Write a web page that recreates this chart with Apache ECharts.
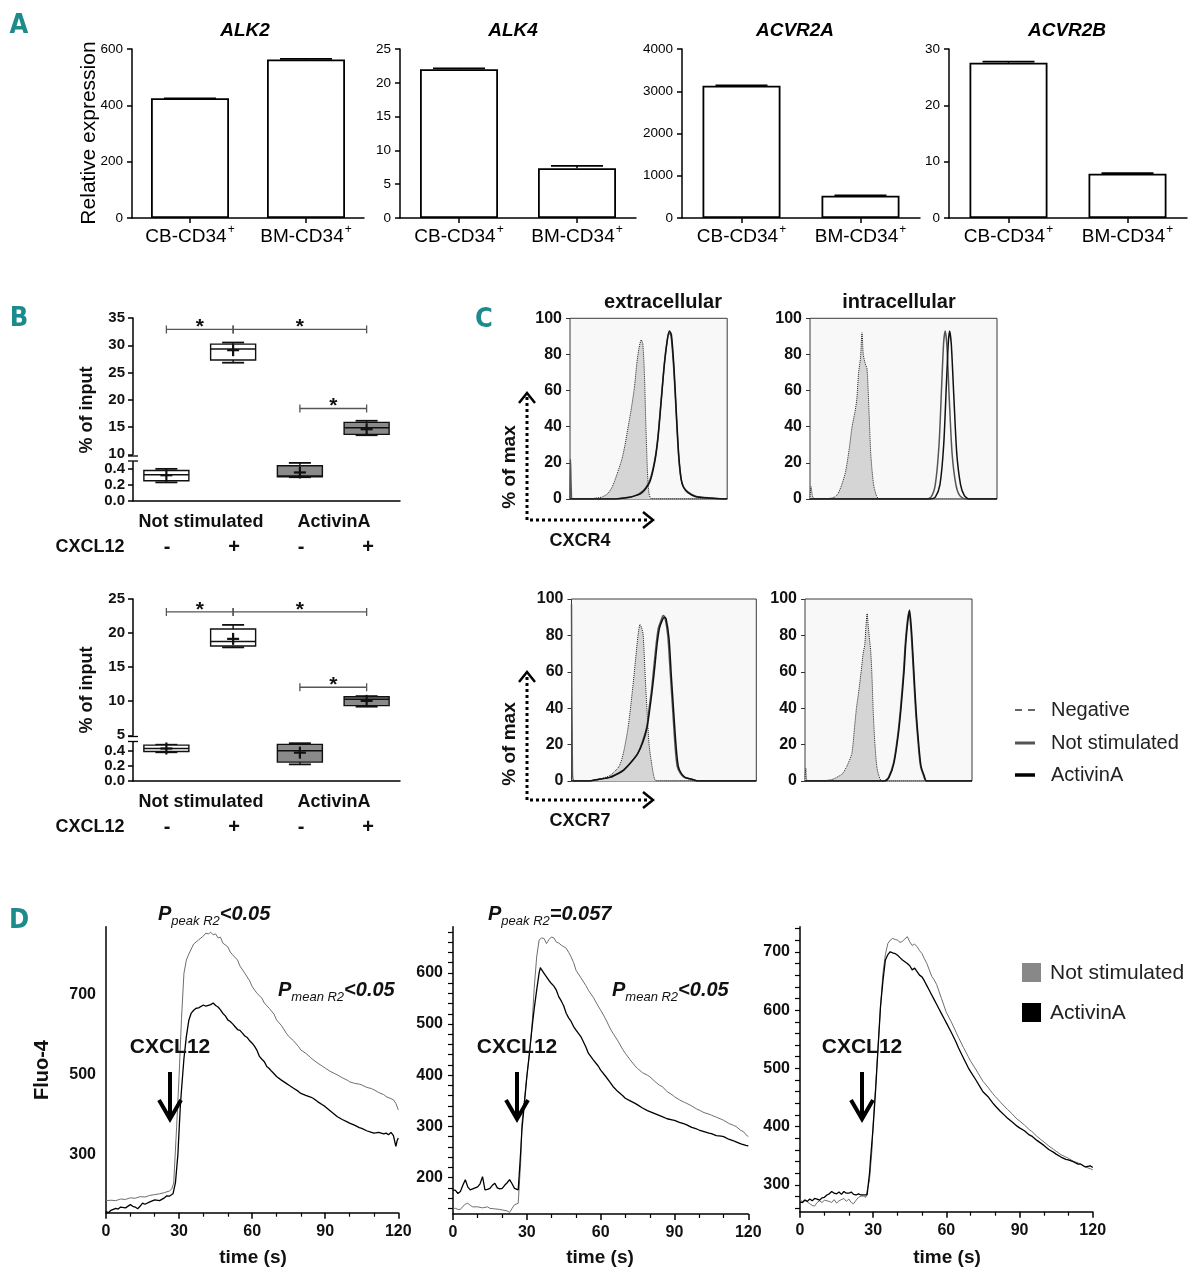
<!DOCTYPE html>
<html><head><meta charset="utf-8">
<script src="https://cdn.jsdelivr.net/npm/echarts@6/dist/echarts.min.js"></script>
<style>html,body{margin:0;padding:0;background:#fff}#c{width:1199px;height:1280px}</style>
</head><body><div id="c"></div>
<script>
const FF = '"Liberation Sans", Arial, Helvetica, sans-serif';
const NARROW = '"Liberation Sans Narrow", "DejaVu Sans Condensed", "Liberation Sans", sans-serif';

// ---------- Panel A data ----------
const aGroups = ['CB-CD34', 'BM-CD34'];
const aGenes = ['ALK2', 'ALK4', 'ACVR2A', 'ACVR2B'];
const alk2Vals = [425, 563];
const alk2Err = [0, 2];
const alk4Vals = [22.0, 7.35];
const alk4Err = [0.12, 0.35];
const acvr2aVals = [3130, 525];
const acvr2aErr = [8, 8];
const acvr2bVals = [27.55, 7.85];
const acvr2bErr = [0.2, 0.12];
const aAxisMax = [600, 25, 4000, 30];
const aAxisStep = [200, 5, 1000, 10];

// ---------- Panel B data: [category, min, q1, median, q3, max, mean] ----------
const bCats = ['Not stimulated -', 'Not stimulated +', 'ActivinA -', 'ActivinA +'];
const bCxcl12 = ['-', '+', '-', '+'];
const bTopBoxes = [
  [0, 0.23, 0.25, 0.325, 0.38, 0.40, 0.32],
  [1, 26.8, 27.3, 29.3, 30.2, 30.5, 29.1],
  [2, 0.295, 0.30, 0.31, 0.44, 0.475, 0.355],
  [3, 13.5, 13.65, 14.85, 15.85, 16.15, 14.6]
];
const bBottomBoxes = [
  [0, 0.38, 0.39, 0.43, 0.475, 0.48, 0.43],
  [1, 17.9, 18.1, 18.75, 20.6, 21.2, 19.15],
  [2, 0.22, 0.25, 0.40, 0.485, 0.50, 0.375],
  [3, 9.2, 9.35, 10.3, 10.65, 10.75, 10.05]
];
const bTopSig = [[0, 1, 32.9], [1, 3, 32.9], [2, 3, 18.4]];
const bBottomSig = [[0, 1, 23.1], [1, 3, 23.1], [2, 3, 12.05]];
const bLowTickLabels = [0, 0.2, 0.4];

// ---------- Panel C data: [relative fluorescence, % of max] ----------
const cxcr4ExtNeg = [[0,0],[14,0],[16,0.5],[20,1],[24,3],[27,7],[30,14],[33,22],[35,30],[37,40],[39,50],[41,62],[42.5,75],[44,84],[45.3,88],[46.3,86],[47.3,70],[48.3,40],[49.3,15],[50.3,3],[52,0],[100,0]];
const cxcr4ExtNS = [[0,0],[0.3,22],[0.8,5],[1.5,0],[27,0],[32,0.3],[38,1],[42,2],[45,3.5],[48,6],[51,11],[54,22],[56,35],[58,55],[60,75],[61.7,87],[63,92],[64.3,90],[66,72],[67.5,48],[69,25],[70.5,12],[72,7],[75,4],[80,1.5],[90,0.5],[99,0],[100,0]];
const cxcr4ExtAct = [[0,0],[27,0],[32,0.3],[38,1],[42,2],[45,3],[48,5.5],[51,10],[54,21],[56,34],[58,54],[60,74],[61.9,88],[63.2,93],[64.5,91],[66.2,72],[67.7,47],[69.2,24],[70.7,11],[72.2,6.5],[75,3.5],[80,1.3],[90,0.4],[99,0],[100,0]];
const cxcr4IntNeg = [[0,0],[0.5,7],[1.5,1],[3,0],[10,0.3],[13,1],[15,3],[17,8],[19,15],[21,28],[22.5,40],[24,48],[25,55],[26,70],[27,78],[27.8,92],[28.5,80],[29.5,75],[30.5,72],[31.5,50],[32.5,25],[34,8],[35.5,2],[37,0],[100,0]];
const cxcr4IntNS = [[0,0],[62,0],[64.7,1],[67,8],[69,30],[70.5,65],[71.5,87],[72.3,93],[73.2,85],[74.5,55],[76,25],[78,8],[80,2],[83,0],[100,0]];
const cxcr4IntAct = [[0,0],[64.5,0],[67,1],[69.5,8],[71.5,30],[73,65],[74,87],[74.7,93],[75.6,85],[77,55],[78.5,25],[80.5,8],[82.5,2],[85,0],[100,0]];
const cxcr7ExtNeg = [[0,0],[9,0],[15,1],[20.7,3],[25.7,8],[28,15],[30.7,30],[33,50],[34.5,65],[36,80],[37.1,86],[38,84],[38.8,80],[40,55],[40.8,40],[42,20],[43.3,10],[44.5,3],[45.8,0],[100,0]];
const cxcr7ExtNS = [[0,97],[0.5,5],[1.5,0],[9,0],[15,1],[20.7,2],[25,4],[28.2,6],[32,10],[35.8,15],[38.5,22],[40.8,30],[42,40],[43.3,50],[44.5,62],[45.8,75],[47,84],[48.4,88],[49.6,91],[50.5,90],[52.1,80],[53.4,60],[54.7,40],[56,20],[57.2,8],[59,4],[60.9,2],[65,1],[68.5,0],[100,0]];
const cxcr7ExtAct = [[0,0],[9,0],[15,1],[20.7,2],[25,4],[28.2,6],[32,10],[35.8,15],[38.5,21],[40.8,29],[42.3,39],[43.7,50],[45,62],[46.3,75],[47.6,84],[49,88],[50.2,90],[51.2,89],[52.8,78],[54,58],[55.3,38],[56.6,19],[57.8,8],[59.5,4],[61.5,2],[65,1],[68.5,0],[100,0]];
const cxcr7IntNeg = [[0,0],[0.5,7],[1.5,0],[10,0],[14,0.5],[16.8,1],[19,2],[22.4,4],[25,8],[28,15],[29.5,28],[30.8,40],[32,48],[33.6,60],[34.8,70],[35.8,75],[36.5,85],[37.2,92],[37.9,85],[38.6,78],[39.3,72],[40,60],[41,35],[41.9,20],[43,8],[44.2,3],[46.1,0],[100,0]];
const cxcr7IntNS = [[0,0],[47.5,0],[50,2],[53,10],[55.5,25],[57.2,40],[59,60],[60,75],[61.3,88],[62.3,93],[63.3,85],[64.3,70],[65.5,50],[66.5,35],[68,18],[69.2,8],[71,3],[72.6,0],[100,0]];
const cxcr7IntAct = [[0,0],[47.8,0],[50.3,2],[53.3,10],[55.8,25],[57.5,40],[59.3,60],[60.3,75],[61.6,88],[62.6,94],[63.6,85],[64.6,70],[65.8,50],[66.8,35],[68.3,18],[69.5,8],[71.3,3],[72.9,0],[100,0]];

// ---------- Panel D data: [time (s), Fluo-4] ----------
const d1NS = [[0,186],[2,187],[4,186],[6,190],[8,189],[10,193],[12,192],[14,196],[16,195],[18,199],[20,201],[22,203],[24,206],[26,210],[27,215],[27.8,230],[29,370],[30,495],[31,640],[32,752],[33,785],[34,800],[36,825],[38,835],[40,845],[41,852],[42,850],[43,854],[44,848],[45,850],[46,840],[47,842],[48,827],[50,818],[51,805],[52,798],[54,785],[55,770],[57,752],[59,733],[60,719],[62,702],[64,690],[65,678],[67,665],[69,650],[70,636],[72,622],[74,603],[75,595],[77,584],[79,570],[80,561],[82,553],[84,542],[85,537],[87,528],[89,520],[90,516],[92,508],[94,502],[95,499],[97,492],[99,486],[100,482],[102,478],[104,476],[105,474],[107,468],[109,465],[110,462],[112,455],[114,450],[115,445],[117,440],[118,437],[119,428],[120,412]];
const d1Act = [[0,159],[1,156],[2,162],[4,167],[5,165],[6,170],[8,168],[10,176],[11,172],[12,170],[13,166],[14,172],[15,180],[16,177],[18,183],[20,188],[22,186],[24,193],[25,198],[26,197],[27.5,203],[28.5,230],[29.5,300],[30.5,420],[31,462],[32,540],[33,595],[34,635],[35,653],[36,660],[37,665],[38,666],[40,673],[41,670],[42,672],[43,674],[44,678],[45,672],[46,668],[47,661],[48,652],[49,646],[50,636],[51,632],[52,626],[53,619],[54,612],[55,610],[56,603],[57,596],[58,592],[59,584],[60,578],[61,570],[62,560],[63,545],[64,538],[65,532],[66,520],[67,515],[68,508],[69,502],[70,495],[72,486],[74,478],[75,474],[77,466],[79,458],[80,453],[82,448],[84,444],[85,441],[87,432],[89,424],[90,420],[92,410],[94,400],[95,395],[97,388],[99,382],[100,379],[102,374],[104,368],[105,366],[107,360],[109,356],[110,354],[112,356],[114,352],[115,354],[116,350],[117,356],[118,348],[119,321],[119.5,335],[120,342]];
const d2NS = [[0,140],[1,140],[2,138],[3,138],[4,144],[5,148],[6,150],[7,146],[8,143],[10,143],[12,141],[14,143],[15,140],[17,139],[19,138],[20,137],[22,135],[23,132],[24,140],[25,147],[26.5,150],[27.5,230],[28,306],[29,350],[30,397],[31,440],[32,488],[33,570],[34,631],[35,664],[36,668],[37,667],[38,657],[39,665],[40,670],[41,668],[42,660],[43,658],[44,654],[45,651],[46,648],[47,640],[48,631],[49,620],[50,605],[52,590],[54,575],[55,566],[57,552],[59,535],[60,527],[62,510],[64,490],[65,482],[67,467],[69,450],[70,443],[72,430],[74,418],[75,413],[77,405],[79,400],[80,397],[82,388],[84,380],[85,378],[87,368],[89,362],[90,358],[92,352],[94,347],[95,345],[97,340],[99,334],[100,332],[102,327],[104,324],[105,322],[107,318],[109,314],[110,312],[112,306],[114,302],[115,300],[117,292],[118,290],[119,284],[120,280]];
const d2Act = [[0,176],[1,175],[2,169],[3,173],[4,185],[5,196],[6,182],[7,176],[8,178],[9,180],[10,182],[11,188],[12,202],[13,176],[14,177],[15,179],[16,185],[17,189],[18,180],[19,178],[20,179],[21,185],[22,190],[23,196],[24,188],[25,179],[26.5,176],[27.5,250],[28,293],[29,345],[30,397],[31,440],[32,488],[33,530],[34,566],[35,600],[35.5,610],[36,606],[37,599],[38,592],[39,585],[40,579],[41,574],[42,566],[43,553],[44,545],[45,535],[46,521],[47,512],[48,505],[49,495],[50,488],[52,475],[54,455],[55,443],[57,430],[59,418],[60,410],[62,398],[64,385],[65,378],[67,368],[69,360],[70,355],[72,350],[74,345],[75,342],[77,336],[79,331],[80,329],[82,325],[84,321],[85,319],[87,315],[89,313],[90,312],[92,308],[94,305],[95,303],[97,298],[99,295],[100,293],[102,290],[104,287],[105,286],[107,282],[109,281],[110,280],[112,275],[114,272],[115,270],[117,266],[119,263],[120,262]];
const d3NS = [[0,274],[1,272],[2,275],[3,271],[4,268],[5,265],[6,264],[7,270],[8,273],[9,270],[10,274],[12,272],[13,270],[14,275],[15,269],[16,273],[18,277],[19,272],[20,276],[21,270],[22,268],[23,274],[24,279],[25,281],[26,281],[27,279],[27.5,278],[28.5,309],[29.5,360],[30,406],[31,470],[32,537],[33,605],[34,663],[35,695],[36,714],[37,720],[38,723],[39,721],[40,720],[41,716],[42,718],[43,722],[44,726],[45,717],[46,711],[47,713],[48,709],[49,702],[50,697],[51,688],[52,680],[53,669],[54,658],[55,652],[56,644],[58,620],[60,596],[62,580],[64,562],[65,553],[67,536],[69,520],[70,512],[72,499],[74,485],[75,478],[77,468],[79,457],[80,452],[82,443],[84,434],[85,430],[87,422],[89,413],[90,410],[92,403],[94,395],[95,392],[97,384],[99,377],[100,374],[102,367],[104,361],[105,358],[107,352],[109,348],[110,346],[112,341],[114,338],[115,336],[117,331],[119,328],[120,326]];
const d3Act = [[0,271],[1,270],[2,274],[3,272],[4,276],[5,273],[6,277],[7,276],[8,274],[9,278],[10,279],[11,283],[12,285],[13,289],[14,286],[15,285],[16,288],[17,284],[18,289],[19,286],[20,286],[21,288],[22,284],[23,283],[24,285],[25,283],[26,283],[27.5,283],[28.5,320],[29,349],[30,400],[31,463],[32,535],[33,606],[34,650],[35,686],[36,695],[37,700],[38,698],[39,697],[40,694],[41,690],[42,686],[43,683],[44,680],[45,676],[46,669],[47,672],[48,666],[49,660],[50,657],[51,650],[52,642],[53,634],[54,626],[55,618],[56,610],[57,602],[58,594],[59,586],[60,578],[62,562],[64,545],[65,535],[67,518],[69,501],[70,494],[72,481],[74,467],[75,460],[77,452],[79,441],[80,436],[82,427],[84,419],[85,415],[87,408],[89,401],[90,398],[92,393],[94,386],[95,384],[97,377],[99,371],[100,368],[102,361],[104,356],[105,353],[107,348],[109,344],[110,343],[112,340],[114,336],[115,336],[117,331],[119,333],[120,330]];
const d1TickLabels = [300, 500, 700];
const d2TickLabels = [200, 300, 400, 500, 600];
const d3TickLabels = [300, 400, 500, 600, 700];
const timeTicks = [0, 30, 60, 90, 120];

// ---------- build ----------
const grids = [], xAxes = [], yAxes = [], series = [], graphics = [];
function addGrid(g, x, y) {
  const i = grids.length;
  grids.push(Object.assign({ outerBoundsMode: 'none', containLabel: false }, g));
  xAxes.push(Object.assign({ gridIndex: i }, x));
  yAxes.push(Object.assign({ gridIndex: i }, y));
  return i;
}
const blackLine = { show: true, lineStyle: { color: '#000', width: 1.5 } };
const range = (a, b, s) => { const r = []; for (let v = a; v <= b + 1e-9; v += s) r.push(v); return r; };

// Panel A
const aVals = [alk2Vals, alk4Vals, acvr2aVals, acvr2bVals];
const aErrs = [alk2Err, alk4Err, acvr2aErr, acvr2bErr];
const aLayout = [[132, 232], [400, 236], [682, 238], [949, 238]];
function errRender(params, api) {
  const base = api.coord([api.value(0), api.value(1)]);
  const top = api.coord([api.value(0), api.value(1) + api.value(2)]);
  return { type: 'group', children: [
    { type: 'line', shape: { x1: base[0], y1: base[1], x2: base[0], y2: top[1] }, style: { stroke: '#000', lineWidth: 1.5 } },
    { type: 'line', shape: { x1: base[0] - 26, y1: top[1], x2: base[0] + 26, y2: top[1] }, style: { stroke: '#000', lineWidth: 1.8 } }
  ] };
}
aGenes.forEach((g, i) => {
  const gi = addGrid({ left: aLayout[i][0], width: aLayout[i][1], top: 49, height: 169 },
    { type: 'category', data: aGroups, axisLine: blackLine,
      axisTick: { show: true, alignWithLabel: true, length: 5, lineStyle: { color: '#000', width: 1.5 } },
      axisLabel: { interval: 0, hideOverlap: false, margin: 6, formatter: v => '{b|' + v + '}{s|+}',
        rich: { b: { fontSize: 19, fontFamily: FF, color: '#000', lineHeight: 22, verticalAlign: 'bottom' },
                s: { fontSize: 12, fontFamily: FF, color: '#000', lineHeight: 12, verticalAlign: 'top', padding: [0, 0, 0, 1] } } } },
    { type: 'value', min: 0, max: aAxisMax[i], interval: aAxisStep[i], axisLine: blackLine,
      axisTick: { show: true, length: 5, lineStyle: { color: '#000', width: 1.5 } },
      splitLine: { show: false }, axisLabel: { fontSize: 13.5, fontFamily: FF, color: '#000', margin: 9, formatter: v => String(v) } });
  series.push({ type: 'bar', xAxisIndex: gi, yAxisIndex: gi, data: aVals[i], barWidth: 78, silent: true,
    itemStyle: { color: '#fff', borderColor: '#000', borderWidth: 1.8 } });
  series.push({ type: 'custom', xAxisIndex: gi, yAxisIndex: gi, silent: true,
    data: aVals[i].map((v, j) => [j, v, aErrs[i][j]]), renderItem: errRender });
});

// Panel B
function boxRender(params, api) {
  const c = api.value(0);
  const P = k => api.coord([c, api.value(k)]);
  const pMin = P(1), pQ1 = P(2), pMed = P(3), pQ3 = P(4), pMax = P(5), pMean = P(6);
  const x = pMin[0], hw = 22.5, cw = 11;
  const fill = c >= 2 ? '#8a8a8a' : '#ffffff';
  const L = (x1, y1, x2, y2, w) => ({ type: 'line', shape: { x1, y1, x2, y2 }, style: { stroke: '#111', lineWidth: w || 1.4 } });
  return { type: 'group', children: [
    L(x, pMax[1], x, pQ3[1]), L(x, pQ1[1], x, pMin[1]),
    L(x - cw, pMax[1], x + cw, pMax[1], 1.8), L(x - cw, pMin[1], x + cw, pMin[1], 1.8),
    { type: 'rect', shape: { x: x - hw, y: pQ3[1], width: 2 * hw, height: pQ1[1] - pQ3[1] }, style: { fill, stroke: '#111', lineWidth: 1.4 } },
    L(x - hw, pMed[1], x + hw, pMed[1], 1.5),
    L(x - 6, pMean[1], x + 6, pMean[1], 2.2), L(x, pMean[1] - 6, x, pMean[1] + 6, 2.2)
  ] };
}
function sigRender(params, api) {
  const a = api.coord([api.value(0), api.value(2)]);
  const b = api.coord([api.value(1), api.value(2)]);
  const st = { stroke: '#555', lineWidth: 1.3 };
  return { type: 'group', children: [
    { type: 'line', shape: { x1: a[0], y1: a[1], x2: b[0], y2: b[1] }, style: st },
    { type: 'line', shape: { x1: a[0], y1: a[1] - 4, x2: a[0], y2: a[1] + 4 }, style: st },
    { type: 'line', shape: { x1: b[0], y1: b[1] - 4, x2: b[0], y2: b[1] + 4 }, style: st },
    { type: 'text', x: (a[0] + b[0]) / 2, y: a[1] - 2, style: { text: '*', align: 'center', verticalAlign: 'middle', fontSize: 21, fontWeight: 'bold', fontFamily: FF, fill: '#111' } }
  ] };
}
function bPanel(upTop, upH, upMin, upMax, lowTop, lowH, lowMax, boxes, sig) {
  const yLab = { fontSize: 15, fontWeight: 'bold', fontFamily: FF, color: '#111', margin: 8 };
  const yTick = { show: true, length: 5, lineStyle: { color: '#000', width: 1.5 } };
  const up = addGrid({ left: 133, width: 267, top: upTop, height: upH },
    { type: 'category', data: bCats, show: false },
    { type: 'value', min: upMin, max: upMax, interval: 5, axisLine: blackLine, axisTick: yTick, splitLine: { show: false }, axisLabel: yLab });
  const low = addGrid({ left: 133, width: 267, top: lowTop, height: lowH },
    { type: 'category', data: bCats, axisLine: blackLine, axisTick: { show: false }, axisLabel: { show: false } },
    { type: 'value', min: 0, max: lowMax, axisLine: blackLine,
      axisTick: Object.assign({ customValues: bLowTickLabels }, yTick), splitLine: { show: false },
      axisLabel: Object.assign({ customValues: bLowTickLabels, formatter: v => v.toFixed(1) }, yLab) });
  series.push({ type: 'custom', xAxisIndex: up, yAxisIndex: up, silent: true, data: boxes.filter(b => b[1] > 1), renderItem: boxRender, z: 3 });
  series.push({ type: 'custom', xAxisIndex: low, yAxisIndex: low, silent: true, data: boxes.filter(b => b[1] <= 1), renderItem: boxRender, z: 3 });
  series.push({ type: 'custom', xAxisIndex: up, yAxisIndex: up, silent: true, data: sig, renderItem: sigRender, z: 4 });
}
bPanel(318, 136.3, 10, 35, 461.7, 39, 0.49, bTopBoxes, bTopSig);
bPanel(599, 136.3, 5, 25, 741.7, 39.3, 0.52, bBottomBoxes, bBottomSig);

// Panel C
function cPanel(left, top, width, height, neg, ns, act) {
  const gi = addGrid({ left, top, width, height, show: true, backgroundColor: '#f8f8f8', borderColor: '#3a3a3a', borderWidth: 1 },
    { type: 'value', min: 0, max: 100, show: false },
    { type: 'value', min: 0, max: 100, interval: 20, axisLine: { show: false },
      axisTick: { show: true, length: 4, lineStyle: { color: '#333', width: 1 } }, splitLine: { show: false },
      axisLabel: { fontSize: 16, fontWeight: 'bold', fontFamily: FF, color: '#111', margin: 8 } });
  series.push({ type: 'line', xAxisIndex: gi, yAxisIndex: gi, data: neg, showSymbol: false, smooth: 0.25, silent: true, z: 2,
    lineStyle: { type: 'dotted', color: '#222', width: 1 }, areaStyle: { color: '#d5d5d5', opacity: 1 } });
  series.push({ type: 'line', xAxisIndex: gi, yAxisIndex: gi, data: ns, showSymbol: false, smooth: 0.25, silent: true, z: 3,
    lineStyle: { color: '#555', width: 1.5 } });
  series.push({ type: 'line', xAxisIndex: gi, yAxisIndex: gi, data: act, showSymbol: false, smooth: 0.25, silent: true, z: 4,
    lineStyle: { color: '#111', width: 1.5 } });
}
cPanel(570, 318.3, 157.2, 180.7, cxcr4ExtNeg, cxcr4ExtNS, cxcr4ExtAct);
cPanel(810, 318.3, 187, 180.7, cxcr4IntNeg, cxcr4IntNS, cxcr4IntAct);
cPanel(571.5, 599, 184.8, 182, cxcr7ExtNeg, cxcr7ExtNS, cxcr7ExtAct);
cPanel(805, 599, 167, 182, cxcr7IntNeg, cxcr7IntNS, cxcr7IntAct);

// Panel D
function dPanel(left, width, height, ymin, ymax, labels, minorStep, ns, act) {
  const lab = { fontSize: 16, fontWeight: 'bold', fontFamily: FF, color: '#111' };
  const gi = addGrid({ left, width, top: 926.7, height },
    { type: 'value', min: 0, max: 120, interval: 30, axisLine: blackLine,
      axisTick: { show: true, length: 6, lineStyle: { color: '#000', width: 1.5 } },
      minorTick: { show: true, splitNumber: 3, length: 4, lineStyle: { color: '#000', width: 1.2 } },
      splitLine: { show: false }, minorSplitLine: { show: false },
      axisLabel: Object.assign({ margin: 11, customValues: timeTicks }, lab) },
    { type: 'value', min: ymin, max: ymax, axisLine: blackLine,
      axisTick: { show: true, length: 5, customValues: range(Math.ceil(ymin / minorStep) * minorStep, ymax, minorStep).filter(v => (v - labels[0]) % minorStep === 0), lineStyle: { color: '#000', width: 1.2 } },
      splitLine: { show: false },
      axisLabel: Object.assign({ margin: 10, customValues: labels }, lab) });
  series.push({ type: 'line', xAxisIndex: gi, yAxisIndex: gi, data: ns, showSymbol: false, silent: true, z: 2,
    lineStyle: { color: '#6e6e6e', width: 1 } });
  series.push({ type: 'line', xAxisIndex: gi, yAxisIndex: gi, data: act, showSymbol: false, silent: true, z: 3,
    lineStyle: { color: '#000', width: 1.3 } });
}
dPanel(106, 292.3, 286, 156, 868, d1TickLabels, 40, d1NS, d1Act);
dPanel(453, 295.3, 287.3, 129, 690, d2TickLabels, 20, d2NS, d2Act);
dPanel(800, 292.7, 285, 254.3, 743, d3TickLabels, 20, d3NS, d3Act);

// ---------- annotations (graphic) ----------
function T(x, y, text, o) {
  o = o || {};
  return { type: 'text', x, y, rotation: o.rot || 0, silent: true, z: 100,
    style: { text, fill: o.fill || '#111', fontSize: o.size || 18, fontWeight: o.weight || 'normal', fontStyle: o.italic ? 'italic' : 'normal',
      fontFamily: o.family || FF, align: o.align || 'center', verticalAlign: 'middle', rich: o.rich } };
}
function Ln(x1, y1, x2, y2, o) {
  o = o || {};
  return { type: 'line', silent: true, z: 100, shape: { x1, y1, x2, y2 }, style: { stroke: o.c || '#000', lineWidth: o.w || 1, lineDash: o.dash || null, lineCap: o.cap || 'butt' } };
}
function PL(pts, o) {
  o = o || {};
  return { type: 'polyline', silent: true, z: 100, shape: { points: pts }, style: { stroke: o.c || '#000', lineWidth: o.w || 1, fill: null, lineJoin: 'miter' } };
}
const TEAL = '#1d8a8c';
['A', 'B', 'C', 'D'].forEach((l, i) => {
  const pos = [[19, 26], [19, 319], [484, 320], [19, 921]][i];
  graphics.push(T(pos[0], pos[1], l, { size: 27, weight: 'bold', family: NARROW, fill: TEAL }));
});
// A
const aTitleX = [245, 513, 795, 1067];
aGenes.forEach((g, i) => graphics.push(T(aTitleX[i], 31, g, { size: 19, weight: 'bold', italic: true, fill: '#000' })));
graphics.push(T(89, 133, 'Relative expression', { size: 21, rot: Math.PI / 2, fill: '#000' }));
// B
const bSignX = [167, 234, 301, 368];
[[0, 522, 547, 410], [280, 802, 827, 690]].forEach(r => {
  graphics.push(T(201, r[1], 'Not stimulated', { size: 18, weight: 'bold' }));
  graphics.push(T(334, r[1], 'ActivinA', { size: 18, weight: 'bold' }));
  graphics.push(T(90, r[2], 'CXCL12', { size: 18, weight: 'bold' }));
  bCxcl12.forEach((s, i) => graphics.push(T(bSignX[i], r[2], s, { size: 20, weight: 'bold' })));
  graphics.push(T(87, r[3], '% of input', { size: 18, weight: 'bold', rot: Math.PI / 2 }));
});
graphics.push(Ln(128, 456, 138, 456, { w: 1.3 }), Ln(128, 461, 138, 461, { w: 1.3 }));
graphics.push(Ln(128, 736.5, 138, 736.5, { w: 1.3 }), Ln(128, 741.5, 138, 741.5, { w: 1.3 }));
// C
graphics.push(T(663, 302, 'extracellular', { size: 20, weight: 'bold' }));
graphics.push(T(899, 302, 'intracellular', { size: 20, weight: 'bold' }));
[[467, 520, 393, 'CXCR4', 541], [744, 800, 672, 'CXCR7', 821]].forEach(r => {
  graphics.push(T(510, r[0], '% of max', { size: 19, weight: 'bold', rot: Math.PI / 2 }));
  graphics.push(Ln(527, r[1], 527, r[2] + 3, { w: 3, dash: [3, 3] }));
  graphics.push(PL([[519, r[2] + 10], [527, r[2]], [535, r[2] + 10]], { w: 2.5 }));
  graphics.push(Ln(530, r[1], 649, r[1], { w: 3, dash: [3, 3] }));
  graphics.push(PL([[643, r[1] - 8], [653, r[1]], [643, r[1] + 8]], { w: 2.5 }));
  graphics.push(T(580, r[4], r[3], { size: 18, weight: 'bold' }));
});
graphics.push(Ln(1015, 710, 1022, 710, { w: 2, c: '#666' }), Ln(1028, 710, 1035, 710, { w: 2, c: '#666' }));
graphics.push(Ln(1015, 743, 1035, 743, { w: 3, c: '#555' }));
graphics.push(Ln(1015, 775, 1035, 775, { w: 3.5, c: '#000' }));
graphics.push(T(1051, 710, 'Negative', { size: 20, align: 'left', fill: '#222' }));
graphics.push(T(1051, 743, 'Not stimulated', { size: 20, align: 'left', fill: '#222' }));
graphics.push(T(1051, 775, 'ActivinA', { size: 20, align: 'left', fill: '#222' }));
// D
graphics.push(T(42, 1070, 'Fluo-4', { size: 20, weight: 'bold', rot: Math.PI / 2 }));
[253, 600, 947].forEach(x => graphics.push(T(x, 1258, 'time (s)', { size: 19, weight: 'bold' })));
[170, 517, 862].forEach(x => {
  graphics.push(T(x, 1047, 'CXCL12', { size: 21, weight: 'bold' }));
  graphics.push(Ln(x, 1072, x, 1115, { w: 4 }));
  graphics.push(PL([[x - 11, 1100], [x, 1119], [x + 11, 1100]], { w: 4 }));
});
const pRich = {
  p: { fontSize: 20, fontWeight: 'bold', fontStyle: 'italic', fontFamily: FF, color: '#111', lineHeight: 24, verticalAlign: 'top' },
  s: { fontSize: 13, fontStyle: 'italic', fontFamily: FF, color: '#111', lineHeight: 14, verticalAlign: 'bottom' }
};
graphics.push(T(158, 916, '{p|P}{s|peak R2}{p|<0.05}', { align: 'left', rich: pRich }));
graphics.push(T(278, 992, '{p|P}{s|mean R2}{p|<0.05}', { align: 'left', rich: pRich }));
graphics.push(T(488, 916, '{p|P}{s|peak R2}{p|=0.057}', { align: 'left', rich: pRich }));
graphics.push(T(612, 992, '{p|P}{s|mean R2}{p|<0.05}', { align: 'left', rich: pRich }));
graphics.push({ type: 'rect', silent: true, z: 100, shape: { x: 1022, y: 963, width: 19, height: 19 }, style: { fill: '#888' } });
graphics.push({ type: 'rect', silent: true, z: 100, shape: { x: 1022, y: 1003, width: 19, height: 19 }, style: { fill: '#000' } });
graphics.push(T(1050, 973, 'Not stimulated', { size: 21, align: 'left', fill: '#222' }));
graphics.push(T(1050, 1013, 'ActivinA', { size: 21, align: 'left', fill: '#222' }));

const chart = echarts.init(document.getElementById('c'), null, { renderer: 'canvas' });
chart.setOption({
  animation: false,
  backgroundColor: '#fff',
  textStyle: { fontFamily: FF },
  grid: grids, xAxis: xAxes, yAxis: yAxes, series: series, graphic: graphics
});
</script></body></html>
